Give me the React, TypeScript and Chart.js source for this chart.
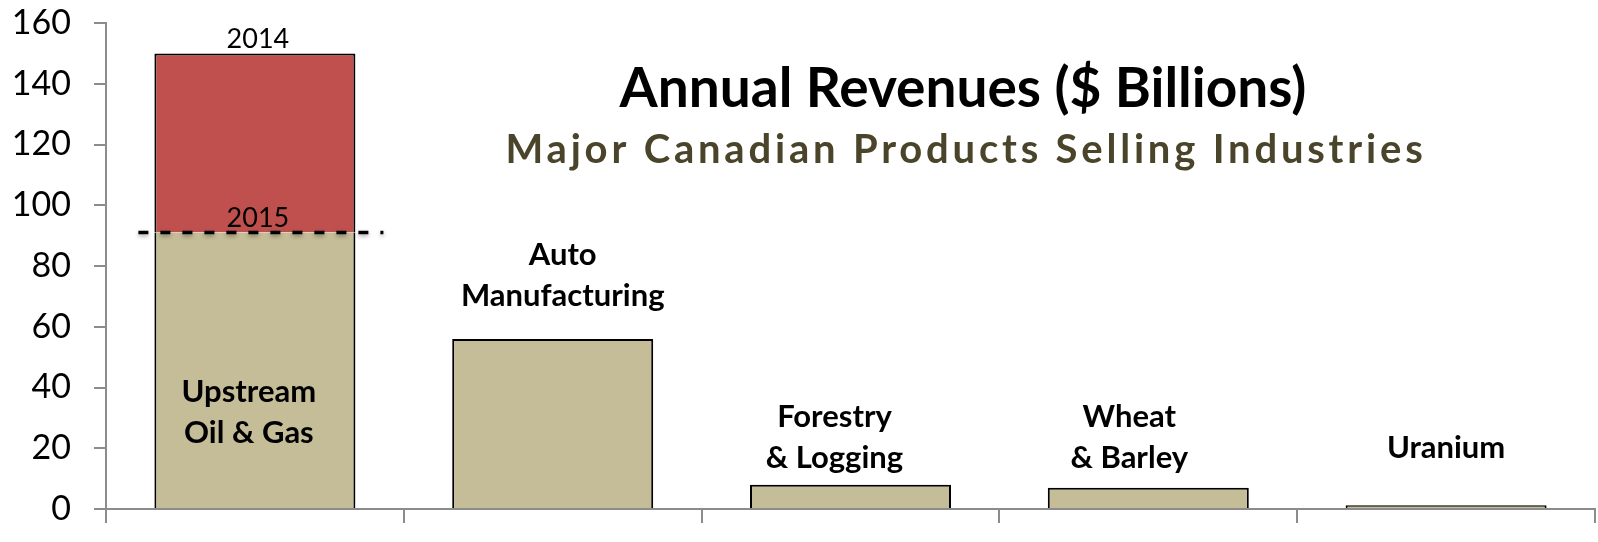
import React, { useEffect, useRef } from 'react';
import { Chart, registerables } from 'chart.js';

Chart.register(...registerables);

// ---------- data ----------
const categories = ['Upstream Oil & Gas', 'Auto Manufacturing', 'Forestry & Logging', 'Wheat & Barley', 'Uranium'];
const categoryLabelLines = [
  ['Upstream', 'Oil & Gas'],
  ['Auto', 'Manufacturing'],
  ['Forestry', '& Logging'],
  ['Wheat', '& Barley'],
  ['Uranium'],
];
const revenue2015 = [91, 56, 8, 7, 1.2];
const revenue2014 = [150, null, null, null, null];
const yearLabels = ['2014', '2015'];
const yTickValues = [0, 20, 40, 60, 80, 100, 120, 140, 160];
const titleText = 'Annual Revenues ($ Billions)';
const subtitleText = 'Major Canadian Products Selling Industries';

// ---------- layout / style ----------
const W = 1598;
const H = 542;
const TAN = '#C4BD97';
const RED = '#C0504D';
const AXIS = '#8C8C8C';
const OLIVE = '#4A452A';
const FONT = 'Lato, "Open Sans", sans-serif';
// label anchor (value units) and horizontal nudge (px) for the category annotations
const LABEL_CENTER_VALUE = [31.9, 76.9, 23.5, 23.5, 20.2];
const LABEL_DX = [-6, 10, -16, -19, 0];

const annotationPlugin = {
  id: 'annotations',
  afterDatasetsDraw(chart: any) {
    const { ctx, scales } = chart;
    const y = scales.y;
    const meta0 = chart.getDatasetMeta(0);
    const meta1 = chart.getDatasetMeta(1);
    ctx.save();

    // dashed 2015 line across the first bar
    const bar0 = meta0.data[0] as any;
    const yDash = y.getPixelForValue(revenue2015[0]);
    const half = bar0.width / 2;
    ctx.save();
    ctx.strokeStyle = '#000';
    ctx.lineWidth = 3.5;
    ctx.setLineDash([10, 12]);
    ctx.shadowColor = 'rgba(0,0,0,0.35)';
    ctx.shadowBlur = 4;
    ctx.shadowOffsetY = 2;
    ctx.beginPath();
    ctx.moveTo(bar0.x - half - 16, yDash);
    ctx.lineTo(bar0.x + half + 28, yDash);
    ctx.stroke();
    ctx.restore();

    // year labels
    const bar1 = meta1.data[0] as any;
    ctx.fillStyle = '#000';
    ctx.font = `27px ${FONT}`;
    ctx.textAlign = 'center';
    ctx.textBaseline = 'alphabetic';
    ctx.fillText(yearLabels[0], bar1.x + 3, bar1.y - 5);
    ctx.fillText(yearLabels[1], bar0.x + 3, yDash - 6);

    // category labels
    ctx.font = `bold 31px ${FONT}`;
    ctx.textBaseline = 'middle';
    const lh = 41;
    categoryLabelLines.forEach((lines, i) => {
      const b = meta0.data[i] as any;
      const cy = y.getPixelForValue(LABEL_CENTER_VALUE[i]);
      const start = cy - ((lines.length - 1) * lh) / 2;
      lines.forEach((ln, j) => {
        ctx.fillText(ln, b.x + LABEL_DX[i], start + j * lh);
      });
    });

    // titles
    ctx.font = `bold 55px ${FONT}`;
    ctx.fillStyle = '#000';
    ctx.fillText(titleText, 963, 89);
    ctx.font = `bold 40px ${FONT}`;
    ctx.fillStyle = OLIVE;
    (ctx as any).letterSpacing = '3.8px';
    ctx.fillText(subtitleText, 966, 150);
    ctx.restore();
  },
};

export default function App() {
  const ref = useRef<HTMLCanvasElement>(null);
  useEffect(() => {
    if (!ref.current) return;
    const chart = new Chart(ref.current, {
      type: 'bar',
      data: {
        labels: categories,
        datasets: [
          {
            label: '2015',
            data: revenue2015,
            backgroundColor: TAN,
            borderColor: '#000',
            borderWidth: (ctx: any) => (ctx.dataIndex === 0 ? { top: 0, left: 2, right: 2, bottom: 0 } : 2),
            borderSkipped: 'start',
            barPercentage: 0.675,
            categoryPercentage: 1,
          },
          {
            label: '2014',
            data: revenue2014.map((v, i) => (v == null ? null : v - revenue2015[i])),
            backgroundColor: RED,
            borderColor: '#000',
            borderWidth: 2,
            borderSkipped: 'start',
            barPercentage: 0.675,
            categoryPercentage: 1,
          },
        ],
      },
      options: {
        responsive: false,
        animation: false,
        devicePixelRatio: 1,
        layout: { padding: { left: 0, right: 3, top: 23, bottom: 19 } },
        plugins: { legend: { display: false }, tooltip: { enabled: false }, title: { display: false } },
        scales: {
          x: {
            stacked: true,
            offset: true,
            grid: { offset: true, drawOnChartArea: false, drawTicks: true, tickLength: 14, color: AXIS, lineWidth: 2 },
            border: { color: AXIS, width: 2 },
            ticks: { display: false },
            afterFit: (s: any) => { s.height = 14; s.paddingLeft = 0; s.paddingRight = 0; },
          },
          y: {
            stacked: true,
            min: 0,
            max: 160,
            afterBuildTicks: (s: any) => { s.ticks = yTickValues.map((v) => ({ value: v })); },
            grid: { drawOnChartArea: false, drawTicks: true, tickLength: 12, color: AXIS, lineWidth: 2 },
            border: { color: AXIS, width: 2 },
            ticks: { color: '#000', padding: 23, font: { family: FONT, size: 34 } },
            afterFit: (s: any) => { s.width = 106; s.paddingTop = 0; s.paddingBottom = 0; },
          },
        },
      },
      plugins: [annotationPlugin],
    });
    return () => chart.destroy();
  }, []);
  return (
    <div style={{ position: 'fixed', left: 0, top: 0, width: W, height: H, background: '#fff' }}>
      <canvas ref={ref} width={W} height={H} style={{ width: W, height: H, display: 'block' }} />
    </div>
  );
}
